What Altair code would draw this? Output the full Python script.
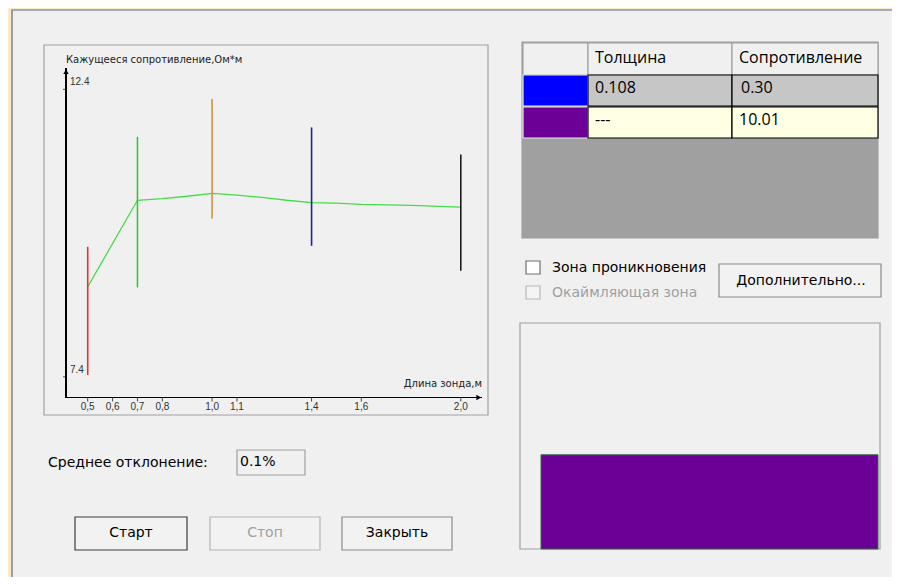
import altair as alt
import pandas as pd

# ---------------- data ----------------
probe_len = [0.5, 0.7, 0.8, 0.9, 1.0, 1.1, 1.2, 1.3, 1.4, 1.5, 1.6, 1.8, 2.0]
app_res = [8.965, 10.47, 10.50, 10.54, 10.59, 10.56, 10.52, 10.47, 10.43, 10.42, 10.40, 10.38, 10.35]

meas_len = [0.5, 0.7, 1.0, 1.4, 2.0]
meas_lo = [7.43, 8.955, 10.155, 9.678, 9.243]
meas_hi = [9.661, 11.574, 12.23, 11.737, 11.268]
meas_color = ["#e23434", "#3cc43c", "#cc9444", "#22229e", "#1e1e1e"]

x_ticks = [0.5, 0.6, 0.7, 0.8, 1.0, 1.1, 1.4, 1.6, 2.0]
y_ticks = [7.4, 12.4]
x_dom = [0.4127, 2.084]
y_dom = [7.04, 12.765]

layer_colors = ["#0000ff", "#6c0096"]
layer_thickness = ["0.108", "---"]
layer_resist = ["0.30", "10.01"]
layer_radius = [0.0, 0.108]
layer_res_val = [0.30, 10.01]
model_x_max = 1.841
model_y_dom = [0.30, 23.6]

y_title = "Кажущееся сопротивление,Ом*м"
x_title = "Длина зонда,м"
mean_dev = "0.1%"

W, H, M = 884, 569, 8


def px(v):
    return v - M


# ---------------- UI frame (pixel positions) ----------------
ui = [
    (12, 10, 910, 600, "#f0f0f0", "#5d6b79"),   # dialog body
    (44, 45, 488, 415, "#f0f0f0", "#a0a0a0"),   # plot panel
    (522, 42, 878, 238, "#a0a0a0", "#a0a0a0"),  # table area
    (526, 261, 540, 274, "#ffffff", "#6f6f6f"),  # checkbox 1
    (526, 286, 540, 299, "#f4f4f4", "#b8b8b8"),  # checkbox 2
    (719, 264, 881, 297, "#f2f2f2", "#8a8a8a"),  # button more
    (237, 450, 305, 475, "#f0f0f0", "#a0a0a0"),  # text box
    (75, 517, 187, 550, "#f2f2f2", "#3c3c3c"),   # start
    (210, 517, 320, 550, "#f2f2f2", "#b4b4b4"),  # stop
    (342, 517, 452, 550, "#f2f2f2", "#8a8a8a"),  # close
    (520, 323, 880, 549, "#f0f0f0", "#a0a0a0"),  # model panel
]

# table cells
col_edges = [523, 588, 732, 878]
hdr_top, row_h = 43, 32
for i in range(3):
    ui.append((col_edges[i], hdr_top, col_edges[i + 1], hdr_top + row_h, "#f0f0f0", "#a0a0a0"))
row_fill = ["#c6c6c6", "#ffffe4"]
for r in range(len(layer_colors)):
    t = hdr_top + row_h * (r + 1)
    ui.append((col_edges[0], t, col_edges[1], t + row_h - 1, layer_colors[r], "#e8e8e8"))
    for c in (1, 2):
        ui.append((col_edges[c], t, col_edges[c + 1], t + row_h - 1, row_fill[r], "#000000"))

ui_df = pd.DataFrame(ui, columns=["x", "y", "x2", "y2", "fill", "stroke"])
for col in ["x", "y", "x2", "y2"]:
    ui_df[col] = ui_df[col] - M

ui_layer = alt.Chart(ui_df).mark_rect(strokeWidth=1.2).encode(
    x=alt.X("x:Q", scale=None, axis=None),
    x2="x2:Q",
    y=alt.Y("y:Q", scale=None, axis=None),
    y2="y2:Q",
    fill=alt.Fill("fill:N", scale=None),
    stroke=alt.Stroke("stroke:N", scale=None),
)


def texts(rows, font, align="left"):
    df = pd.DataFrame(rows, columns=["t", "x", "y", "s", "c"])
    df["x"] = df["x"] - M
    df["y"] = df["y"] - M
    return alt.Chart(df).mark_text(font=font, align=align, baseline="middle").encode(
        x=alt.X("x:Q", scale=None, axis=None),
        y=alt.Y("y:Q", scale=None, axis=None),
        text="t:N",
        size=alt.Size("s:Q", scale=None, legend=None),
        color=alt.Color("c:N", scale=None, legend=None),
    )


dlg_left = texts([
    ("Зона проникновения", 552, 268, 14, "#000000"),
    ("Окаймляющая зона", 552, 293, 14, "#a0a0a0"),
    ("Среднее отклонение:", 48, 463, 14, "#000000"),
    (mean_dev, 240, 462, 14, "#000000"),
], "DejaVu Sans")
dlg_center = texts([
    ("Дополнительно...", 801, 281, 14, "#000000"),
    ("Старт", 131, 533, 14, "#000000"),
    ("Стоп", 265, 533, 14, "#a0a0a0"),
    ("Закрыть", 397, 533, 14, "#000000"),
], "DejaVu Sans", "center")

tbl_rows = [("Толщина", 595, 58, 16, "#000000"), ("Сопротивление", 739, 58, 16, "#000000")]
for r in range(len(layer_thickness)):
    cy = hdr_top + row_h * (r + 1) + 13
    tbl_rows.append((layer_thickness[r], 595, cy, 16, "#000000"))
    tbl_rows.append((layer_resist[r], 741 if r == 0 else 739, cy, 16, "#000000"))
tbl_text = texts(tbl_rows, "Open Sans")

title_left = texts([(y_title, 66, 60, 10, "#222222")], "DejaVu Sans")
title_right = texts([(x_title, 482, 384, 10, "#222222")], "DejaVu Sans", "right")

# ---------------- main plot ----------------
xs = alt.Scale(domain=x_dom, range=[px(66), px(481.7)], nice=False, zero=False)
ys = alt.Scale(domain=y_dom, range=[px(397.5), px(68.3)], nice=False, zero=False)

line_df = pd.DataFrame({"len": probe_len, "res": app_res})
meas_df = pd.DataFrame({"len": meas_len, "lo": meas_lo, "hi": meas_hi, "c": meas_color})
xt_df = pd.DataFrame({"v": x_ticks, "lab": [f"{v:.1f}".replace(".", ",") for v in x_ticks]})
yt_df = pd.DataFrame({"v": y_ticks, "lab": [f"{v:.1f}" for v in y_ticks]})
arrow_df = pd.DataFrame({
    "len": [x_dom[0], x_dom[1] - 0.012],
    "res": [y_dom[1] - 0.06, y_dom[0]],
    "shape": ["triangle-up", "triangle-right"],
})

curve = alt.Chart(line_df).mark_line(color="#46dc46", strokeWidth=1.3).encode(
    x=alt.X("len:Q", scale=xs, axis=None),
    y=alt.Y("res:Q", scale=ys, axis=None),
)
bars = alt.Chart(meas_df).mark_rule(strokeWidth=1.6).encode(
    x="len:Q", y="lo:Q", y2="hi:Q", color=alt.Color("c:N", scale=None, legend=None)
)
x_domain_line = alt.Chart(line_df).mark_rule(color="#000000", strokeWidth=1).encode(
    x=alt.datum(x_dom[0]), x2=alt.datum(x_dom[1]), y=alt.datum(y_dom[0])
)
y_domain_line = alt.Chart(line_df).mark_rule(color="#000000", strokeWidth=1).encode(
    x=alt.datum(x_dom[0]), y=alt.datum(y_dom[0]), y2=alt.datum(y_dom[1])
)
x_tick_marks = alt.Chart(xt_df).mark_tick(orient="vertical", size=4, thickness=1, color="#000000", yOffset=2).encode(
    x="v:Q", y=alt.datum(y_dom[0])
)
x_tick_labels = alt.Chart(xt_df).mark_text(
    font="Liberation Sans", fontSize=10, color="#333333", baseline="top", dy=4
).encode(x="v:Q", y=alt.datum(y_dom[0]), text="lab:N")
y_tick_marks = alt.Chart(yt_df).mark_tick(orient="horizontal", size=4, thickness=1, color="#000000", xOffset=-1).encode(
    y="v:Q", x=alt.datum(x_dom[0])
)
y_tick_labels = alt.Chart(yt_df).mark_text(
    font="Liberation Sans", fontSize=10, color="#333333", align="left", baseline="alphabetic", dx=4, dy=-4
).encode(y="v:Q", x=alt.datum(x_dom[0]), text="lab:N")
arrows = alt.Chart(arrow_df).mark_point(filled=True, color="#000000", size=30, opacity=1).encode(
    x="len:Q", y="res:Q", shape=alt.Shape("shape:N", scale=None, legend=None)
)
main = alt.layer(curve, x_domain_line, y_domain_line, x_tick_marks, x_tick_labels,
                 y_tick_marks, y_tick_labels, bars, arrows)

# ---------------- layer model ----------------
model_df = pd.DataFrame({
    "r0": layer_radius,
    "r1": layer_radius[1:] + [model_x_max],
    "v0": [model_y_dom[0]] * len(layer_res_val),
    "v1": layer_res_val,
    "c": layer_colors,
    "s": ["transparent", "#2f6a3f"],
})
model = alt.Chart(model_df).mark_rect(strokeWidth=1).encode(
    x=alt.X("r0:Q", scale=alt.Scale(domain=[0, model_x_max], range=[px(520), px(878)], nice=False, zero=False), axis=None),
    x2="r1:Q",
    y=alt.Y("v0:Q", scale=alt.Scale(domain=model_y_dom, range=[px(549), px(323)], nice=False, zero=False), axis=None),
    y2="v1:Q",
    fill=alt.Fill("c:N", scale=None, legend=None),
    stroke=alt.Stroke("s:N", scale=None, legend=None),
)

chart = alt.layer(
    ui_layer, tbl_text, dlg_left, dlg_center, title_left, title_right, main, model
).resolve_scale(
    x="independent", y="independent"
).properties(
    width=W, height=H, padding=0, autosize=alt.AutoSizeParams(type="none"),
    background="#fde8c8",
).configure_view(stroke=None)

chart.save("out.html", embed_options={"renderer": "svg", "actions": False})
